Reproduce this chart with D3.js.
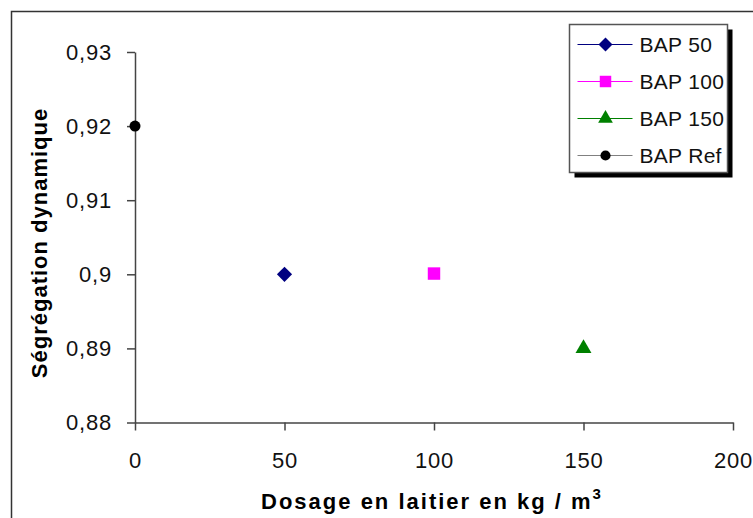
<!DOCTYPE html>
<html>
<head>
<meta charset="utf-8">
<script src="https://cdn.jsdelivr.net/npm/d3@7"></script>
<style>
  body { margin: 0; background: #fff; }
  text { font-family: "Liberation Sans", Arial, sans-serif; }
</style>
</head>
<body>
<div id="chart"></div>
<script>
const svgWidth = 753;
const svgHeight = 518;

// data
const seriesNames = ["BAP 50", "BAP 100", "BAP 150", "BAP Ref"];
const dosage = [50, 100, 150, 0];
const segregation = [0.90, 0.9001, 0.89, 0.92];
const colors = ["#000080", "#ff00ff", "#008000", "#000000"];
const lineColors = ["#000080", "#ff00ff", "#008000", "#808080"];
const xTicks = [0, 50, 100, 150, 200];
const yTicks = [0.88, 0.89, 0.90, 0.91, 0.92, 0.93];

// marker shapes: diamond is a square turned by 45 degrees
const shapes = [d3.symbolSquare, d3.symbolSquare, d3.symbolTriangle, d3.symbolCircle];
const rotations = [45, 0, 0, 0];
const symSize = [115, 155, 110, 95];

const plot = { left: 135, right: 733, top: 52, bottom: 422.5 };

let svg = d3.select("#chart").append("svg")
    .attr("width", svgWidth).attr("height", svgHeight);

// outer frame (cut off at right/bottom)
svg.append("rect")
    .attr("x", 11.5).attr("y", 11.5)
    .attr("width", 800).attr("height", 600)
    .attr("fill", "none").attr("stroke", "#333").attr("stroke-width", 1.5);

let x = d3.scaleLinear().domain([0, 200]).range([plot.left, plot.right]);
let y = d3.scaleLinear().domain([0.88, 0.93]).range([plot.bottom, plot.top]);

const fmt = d => d3.format(".2~f")(d).replace(".", ",");

// X axis
let xAxis = svg.append("g")
    .attr("transform", `translate(0,${plot.bottom})`)
    .call(d3.axisBottom(x).tickValues(xTicks).tickSize(8).tickSizeOuter(0).tickPadding(22));
// Y axis
let yAxis = svg.append("g")
    .attr("transform", `translate(${plot.left},0)`)
    .call(d3.axisLeft(y).tickValues(yTicks).tickFormat(fmt).tickSize(8).tickSizeOuter(0).tickPadding(15));

[xAxis, yAxis].forEach(a => {
    a.select(".domain").attr("stroke", "#444").attr("stroke-width", 1.5);
    a.selectAll(".tick line").attr("stroke", "#444").attr("stroke-width", 1.5);
    a.selectAll(".tick text").attr("fill", "#111")
        .style("font-size", "22px").style("letter-spacing", "0.8px");
});

// axis titles
svg.append("text")
    .attr("x", 432).attr("y", 509)
    .attr("text-anchor", "middle")
    .style("font-size", "22px").style("font-weight", "bold")
    .style("letter-spacing", "2px")
    .text("Dosage en laitier en kg / m")
    .append("tspan").attr("dy", -10).style("font-size", "15px").text("3");

svg.append("text")
    .attr("transform", `translate(47,243) rotate(-90)`)
    .attr("text-anchor", "middle")
    .style("font-size", "22px").style("font-weight", "bold")
    .style("letter-spacing", "1px")
    .text("Ségrégation dynamique");

// points
svg.append("g").selectAll("path")
    .data(seriesNames)
    .enter()
    .append("path")
        .attr("d", (d, i) => d3.symbol(shapes[i], symSize[i])())
        .attr("transform", (d, i) => `translate(${x(dosage[i])},${y(segregation[i])}) rotate(${rotations[i]})`)
        .attr("fill", (d, i) => colors[i]);

// legend
const lg = { x: 569.5, y: 24.5, w: 158, h: 148 };
svg.append("rect")
    .attr("x", lg.x + 5).attr("y", lg.y + 5)
    .attr("width", lg.w).attr("height", lg.h).attr("fill", "#000");
svg.append("rect")
    .attr("x", lg.x).attr("y", lg.y)
    .attr("width", lg.w).attr("height", lg.h)
    .attr("fill", "#fff").attr("stroke", "#555").attr("stroke-width", 1.5);

let items = svg.append("g").selectAll("g")
    .data(seriesNames)
    .enter()
    .append("g")
        .attr("transform", (d, i) => `translate(${lg.x},${lg.y + 20 + i * 37})`);
items.append("line")
    .attr("x1", 8).attr("x2", 63)
    .attr("stroke", (d, i) => lineColors[i]).attr("stroke-width", 1);
items.append("path")
    .attr("d", (d, i) => d3.symbol(shapes[i], symSize[i] * 0.85)())
    .attr("transform", (d, i) => `translate(36,0) rotate(${rotations[i]})`)
    .attr("fill", (d, i) => colors[i]);
items.append("text")
    .attr("x", 70).attr("dy", "0.36em")
    .style("font-size", "21px").style("letter-spacing", "0.3px").attr("fill", "#111")
    .text(d => d);
</script>
</body>
</html>
